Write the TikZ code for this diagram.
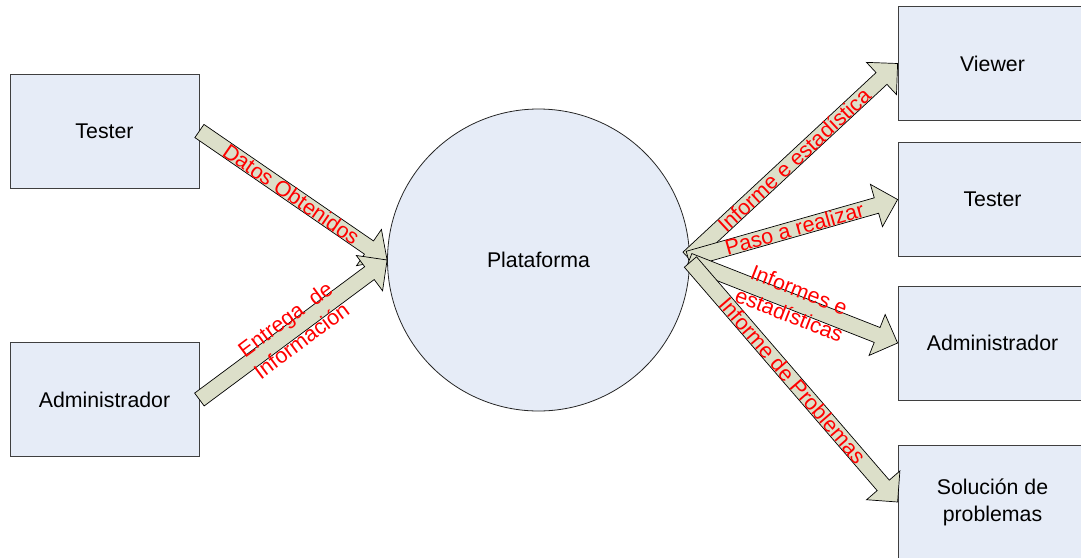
\documentclass[tikz,border=0pt]{standalone}
\usepackage{fontspec}
\setmainfont{Liberation Sans}
\usetikzlibrary{calc}

\definecolor{boxfill}{HTML}{E6ECF7}
\definecolor{boxline}{HTML}{3F3F3F}
\definecolor{arrowfill}{HTML}{DCDFC9}

\tikzset{
  entity/.style={draw=boxline, fill=boxfill, line width=0.8pt,
    minimum width=189pt, minimum height=114pt, inner sep=0pt,
    align=center, font=\fontsize{21.3}{27}\selectfont},
  process/.style={circle, draw=black!85, fill=boxfill, line width=0.8pt,
    minimum size=302pt, inner sep=0pt, font=\fontsize{21.3}{27}\selectfont},
  flowarrow/.style={fill=arrowfill, draw=black, line width=0.7pt, line join=miter},
  flowlabel/.style={sloped, text=red, inner sep=0pt, align=center,
    font=\fontsize{21.5}{27}\selectfont}
}

% block arrow: #1 name prefix, #2 tail, #3 tip
\newcommand\blockarrow[3]{%
  \coordinate (#1-h) at ($(#3)!22pt!(#2)$);
  \draw[flowarrow]
    ($(#2)!8pt!90:(#3)$) --
    ($(#1-h)!8pt!90:(#3)$) --
    ($(#1-h)!22pt!90:(#3)$) --
    (#3) --
    ($(#1-h)!22pt!-90:(#3)$) --
    ($(#1-h)!8pt!-90:(#3)$) --
    ($(#2)!8pt!-90:(#3)$) -- cycle;
}

\begin{document}
\begin{tikzpicture}[x=1pt, y=-1pt]
  \useasboundingbox (0,0) rectangle (1081,557);
  \clip (0,0) rectangle (1081,557);

  % actors and outputs
  \node[entity] (tl) at (104.5,131)   {Tester};
  \node[entity] (al) at (104.5,399.5) {Administrador};
  \node[entity] (vw) at (992.5,63.5)  {Viewer};
  \node[entity] (tr) at (992.5,199.5) {Tester};
  \node[entity] (ar) at (992.5,343)   {Administrador};
  \node[entity] (sp) at (992.5,502)   {Solución de\\problemas};

  % central process
  \node[process] (plat) at (538.5,260) {Plataforma};

  % tails of the outgoing flows
  \coordinate (o1) at ($(plat.east)+(-1.5,-2)$);
  \coordinate (o2) at ($(plat.east)+(-1.5,-1)$);
  \coordinate (o3) at ($(plat.east)+(-1,1)$);
  \coordinate (o4) at ($(plat.east)+(0.5,2)$);

  % incoming flows
  \blockarrow{in1}{tl.east}{plat.west}
  \blockarrow{in2}{al.east}{plat.west}

  % outgoing flows
  \blockarrow{out1}{o1}{vw.west}
  \blockarrow{out2}{o2}{tr.west}
  \blockarrow{out3}{o3}{ar.west}
  \blockarrow{out4}{o4}{sp.west}

  % flow labels
  \path (tl.east) -- node[flowlabel, pos=0.49] {Datos Obtenidos} (plat.west);
  \path (al.east) -- node[flowlabel, pos=0.5] {Entrega\ \ de\\Información} (plat.west);
  \path (o1) -- node[flowlabel, pos=0.505] {Informe e estadística} (vw.west);
  \path (o2) -- node[flowlabel, pos=0.507] {Paso a realizar} (tr.west);
  \path (o3) -- node[flowlabel, pos=0.505] {Informes e\\estadísticas} (ar.west);
  \path (o4) -- node[flowlabel, pos=0.493] {Informe de Problemas} (sp.west);
\end{tikzpicture}
\end{document}
